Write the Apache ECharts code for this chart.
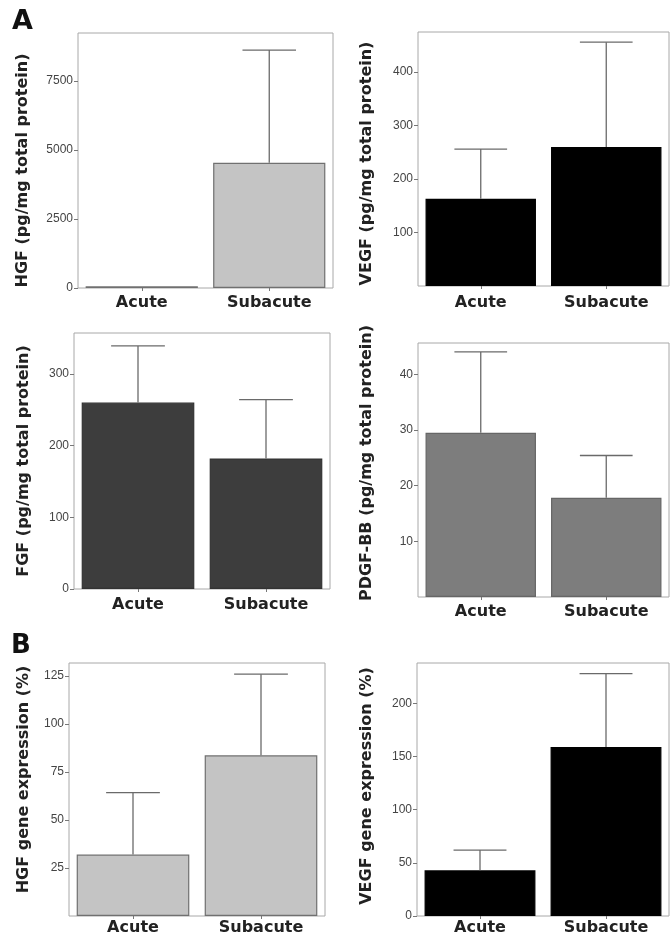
<!DOCTYPE html>
<html>
<head>
    <meta charset="utf-8">
    <script src="https://cdn.jsdelivr.net/npm/echarts@6/dist/echarts.min.js"></script>
    <style>
        html, body { margin: 0; padding: 0; background: #fff; }
        #main { width: 670px; height: 943px; }
    </style>
</head>
<body>
<div id="main"></div>
<script>
    var categories = ['Acute', 'Subacute'];

    // means and top of error bar (null = no visible error bar)
    var hgfProteinMean = [60, 4540];
    var hgfProteinUpper = [null, 8620];
    var vegfProteinMean = [163, 260];
    var vegfProteinUpper = [256, 456];
    var fgfProteinMean = [260, 182];
    var fgfProteinUpper = [339, 264];
    var pdgfProteinMean = [29.5, 17.8];
    var pdgfProteinUpper = [44, 25.4];
    var hgfGeneMean = [32, 83.7];
    var hgfGeneUpper = [64.3, 126];
    var vegfGeneMean = [43, 159];
    var vegfGeneUpper = [62, 228];

    var hgfProteinTicks = [0, 2500, 5000, 7500];
    var vegfProteinTicks = [100, 200, 300, 400];
    var fgfProteinTicks = [0, 100, 200, 300];
    var pdgfProteinTicks = [10, 20, 30, 40];
    var hgfGeneTicks = [25, 50, 75, 100, 125];
    var vegfGeneTicks = [0, 50, 100, 150, 200];

    // namePad: [top, right, bottom, left] of the rotated axis title, used to nudge it along the axis
    var panels = [
        {name: 'HGF (pg/mg total protein)', mean: hgfProteinMean, upper: hgfProteinUpper, ticks: hgfProteinTicks,
            max: 9240, color: '#c4c4c4', border: '#707070',
            left: 78, top: 33, width: 255, height: 255, nameGap: 47, labelMargin: 7, namePad: [0, 20, 0, 0]},
        {name: 'VEGF (pg/mg total protein)', mean: vegfProteinMean, upper: vegfProteinUpper, ticks: vegfProteinTicks,
            max: 475, color: '#000000', border: '#000000',
            left: 418, top: 32, width: 251, height: 254, nameGap: 43, labelMargin: 9, namePad: [0, 9, 0, 0]},
        {name: 'FGF (pg/mg total protein)', mean: fgfProteinMean, upper: fgfProteinUpper, ticks: fgfProteinTicks,
            max: 357, color: '#3d3d3d', border: '#333333',
            left: 74, top: 333, width: 256, height: 256, nameGap: 42, labelMargin: 8, namePad: [0, 0, 0, 0]},
        {name: 'PDGF-BB (pg/mg total protein)', mean: pdgfProteinMean, upper: pdgfProteinUpper, ticks: pdgfProteinTicks,
            max: 45.6, color: '#7d7d7d', border: '#666666',
            left: 418, top: 343, width: 251, height: 254, nameGap: 43, labelMargin: 7, namePad: [0, 0, 0, 14]},
        {name: 'HGF gene expression (%)', mean: hgfGeneMean, upper: hgfGeneUpper, ticks: hgfGeneTicks,
            max: 131.8, color: '#c4c4c4', border: '#707070',
            left: 69, top: 663, width: 256, height: 253, nameGap: 37, labelMargin: 4, namePad: [0, 0, 0, 20]},
        {name: 'VEGF gene expression (%)', mean: vegfGeneMean, upper: vegfGeneUpper, ticks: vegfGeneTicks,
            max: 238, color: '#000000', border: '#000000',
            left: 417, top: 663, width: 252, height: 253, nameGap: 42, labelMargin: 4, namePad: [0, 0, 0, 7]}
    ];

    function renderError(params, api) {
        var top = api.value(2);
        if (top == null || isNaN(top)) {
            return;
        }
        var p0 = api.coord([api.value(0), api.value(1)]);
        var p1 = api.coord([api.value(0), top]);
        var half = api.size([1, 0])[0] * 0.21;
        var style = {stroke: '#6a6a6a', lineWidth: 1.3};
        return {
            type: 'group',
            children: [
                {type: 'line', shape: {x1: p0[0], y1: p0[1], x2: p1[0], y2: p1[1]}, style: style},
                {type: 'line', shape: {x1: p1[0] - half, y1: p1[1], x2: p1[0] + half, y2: p1[1]}, style: style}
            ]
        };
    }

    var option = {
        animation: false,
        title: [
            {text: 'A', left: 12, top: 8, padding: 0,
                textStyle: {fontFamily: 'DejaVu Sans', fontWeight: 'bold', fontSize: 27, color: '#111'}},
            {text: 'B', left: 11, top: 633, padding: 0,
                textStyle: {fontFamily: 'DejaVu Sans', fontWeight: 'bold', fontSize: 26, color: '#111'}}
        ],
        grid: [],
        xAxis: [],
        yAxis: [],
        series: []
    };

    panels.forEach(function (p, i) {
        option.grid.push({
            left: p.left, top: p.top, width: p.width, height: p.height,
            show: true, borderColor: '#a8a8a8', borderWidth: 1, backgroundColor: 'transparent'
        });
        option.xAxis.push({
            type: 'category',
            gridIndex: i,
            data: categories,
            axisLine: {show: false},
            axisTick: {show: true, alignWithLabel: true, length: 3, lineStyle: {color: '#777'}},
            axisLabel: {
                margin: p.labelMargin,
                fontFamily: 'DejaVu Sans', fontWeight: 'bold', fontSize: 16, color: '#222'
            }
        });
        option.yAxis.push({
            type: 'value',
            gridIndex: i,
            min: 0,
            max: p.max,
            name: p.name,
            nameLocation: 'middle',
            nameGap: p.nameGap,
            nameTextStyle: {
                fontFamily: 'DejaVu Sans', fontWeight: 'bold', fontSize: 16, color: '#222',
                padding: p.namePad
            },
            axisLine: {show: false},
            splitLine: {show: false},
            axisTick: {show: true, length: 4, customValues: p.ticks, lineStyle: {color: '#777'}},
            axisLabel: {
                customValues: p.ticks, margin: 5,
                fontFamily: 'Liberation Sans', fontSize: 12, color: '#444',
                formatter: function (v) {
                    return String(v);
                }
            }
        });
        option.series.push({
            type: 'bar',
            xAxisIndex: i,
            yAxisIndex: i,
            data: p.mean,
            barCategoryGap: '12%',
            itemStyle: {color: p.color, borderColor: p.border, borderWidth: 1.2}
        });
        option.series.push({
            type: 'custom',
            xAxisIndex: i,
            yAxisIndex: i,
            renderItem: renderError,
            encode: {x: 0, y: [1, 2]},
            z: 5,
            data: p.mean.map(function (m, k) {
                return [k, m, p.upper[k]];
            })
        });
    });

    var chart = echarts.init(document.getElementById('main'));
    chart.setOption(option);
</script>
</body>
</html>
